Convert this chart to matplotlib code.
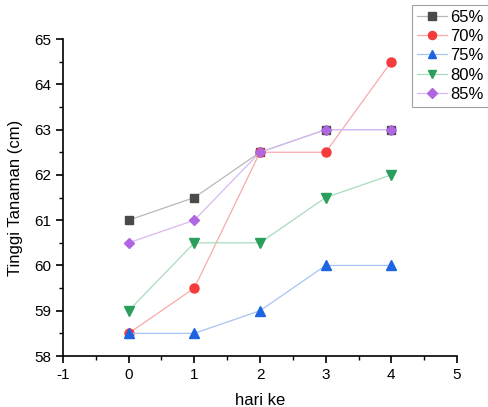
import matplotlib.pyplot as plt
from matplotlib.ticker import MultipleLocator

hari = [0, 1, 2, 3, 4]
t65 = [61, 61.5, 62.5, 63, 63]
t70 = [58.5, 59.5, 62.5, 62.5, 64.5]
t75 = [58.5, 58.5, 59, 60, 60]
t80 = [59, 60.5, 60.5, 61.5, 62]
t85 = [60.5, 61, 62.5, 63, 63]

labels = ['65%', '70%', '75%', '80%', '85%']
series = [t65, t70, t75, t80, t85]
markers = ['s', 'o', '^', 'v', 'D']
mcolors = ['#4a4a4a', '#f53b3b', '#1c64e0', '#2a9e5c', '#b066e0']
lcolors = ['#b8b8b8', '#f9aaaa', '#a8c4f4', '#a8dcbc', '#d8b8f2']
msizes = [6, 6.5, 6.5, 6.5, 5.5]

plt.rcParams['font.family'] = ['Liberation Sans', 'DejaVu Sans']
plt.rcParams['axes.unicode_minus'] = False

fig = plt.figure(figsize=(4.89, 4.07), dpi=100)
ax = fig.add_axes([0.1288, 0.1253, 0.8058, 0.7787])

for y, lab, m, mc, lc, ms in zip(series, labels, markers, mcolors, lcolors, msizes):
    ax.plot(hari, y, color=lc, linewidth=0.9, marker=m, markersize=ms,
            markerfacecolor=mc, markeredgecolor=mc, label=lab)

ax.set_xlim(-1, 5)
ax.set_ylim(58, 65)
ax.xaxis.set_major_locator(MultipleLocator(1))
ax.xaxis.set_minor_locator(MultipleLocator(0.5))
ax.yaxis.set_major_locator(MultipleLocator(1))
ax.yaxis.set_minor_locator(MultipleLocator(0.5))
ax.spines['top'].set_visible(False)
ax.spines['right'].set_visible(False)
for s in ['left', 'bottom']:
    ax.spines[s].set_linewidth(1.2)
ax.tick_params(which='major', direction='out', length=5, width=1.2, labelsize=11)
ax.tick_params(which='minor', direction='out', length=3, width=1.0)

ax.set_xlabel('hari ke', fontsize=12, labelpad=8)
ax.set_ylabel('Tinggi Tanaman (cm)', fontsize=12, labelpad=8)

leg = fig.legend(loc='upper left', bbox_to_anchor=(412 / 489, 1 - 5 / 407), fontsize=12,
                 frameon=True, fancybox=False, edgecolor='#888888',
                 handlelength=1.8, handletextpad=0.2, labelspacing=0.25,
                 borderpad=0.3, borderaxespad=0, markerscale=0.9)
leg.get_frame().set_linewidth(0.8)

fig.savefig('out.png', dpi=100)
